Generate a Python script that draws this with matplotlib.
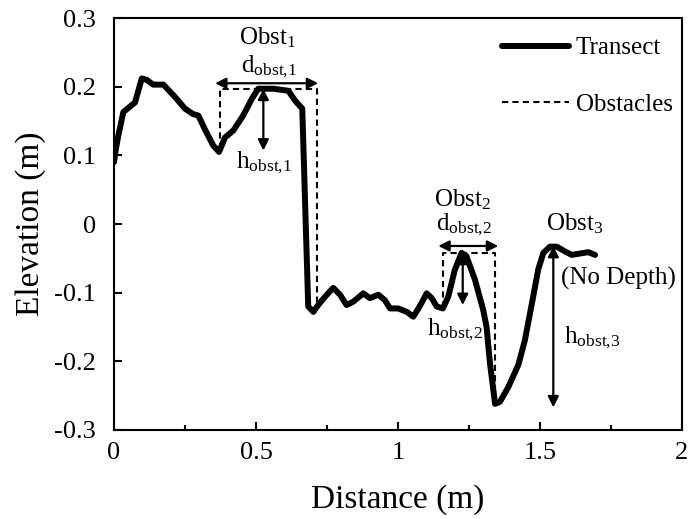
import matplotlib
matplotlib.use("Agg")
import matplotlib.pyplot as plt
import numpy as np
from matplotlib.ticker import MultipleLocator

plt.rcParams['font.family'] = ['Liberation Serif', 'DejaVu Serif']
plt.rcParams['mathtext.fontset'] = 'custom'
plt.rcParams['mathtext.rm'] = 'Liberation Serif'
plt.rcParams['mathtext.it'] = 'Liberation Serif:italic'
plt.rcParams['mathtext.bf'] = 'Liberation Serif:bold'

# Transect profile
dist = [0.0, 0.007, 0.015, 0.033, 0.074, 0.098, 0.115, 0.138, 0.174, 0.215, 0.25,
        0.279, 0.297, 0.32, 0.35, 0.37, 0.391, 0.42, 0.455, 0.485, 0.508, 0.561,
        0.614, 0.637, 0.663, 0.684, 0.702, 0.719, 0.743, 0.772, 0.796, 0.819,
        0.843, 0.878, 0.901, 0.931, 0.954, 0.972, 1.001, 1.031, 1.054, 1.072,
        1.083, 1.101, 1.119, 1.136, 1.158, 1.177, 1.2, 1.224, 1.241, 1.271, 1.3,
        1.312, 1.324, 1.342, 1.359, 1.389, 1.424, 1.447, 1.476, 1.494, 1.512,
        1.535, 1.559, 1.588, 1.612, 1.641, 1.67, 1.694]
elev = [0.09, 0.11, 0.128, 0.163, 0.177, 0.212, 0.21, 0.203, 0.203, 0.185, 0.168,
        0.16, 0.158, 0.138, 0.114, 0.105, 0.126, 0.136, 0.158, 0.182, 0.197, 0.197,
        0.194, 0.18, 0.168, -0.12, -0.128, -0.118, -0.106, -0.093, -0.103, -0.118,
        -0.113, -0.101, -0.108, -0.103, -0.111, -0.123, -0.123, -0.128, -0.135, -0.123,
        -0.115, -0.101, -0.108, -0.12, -0.123, -0.106, -0.067, -0.042, -0.047, -0.081, -0.125,
        -0.15, -0.203, -0.262, -0.259, -0.237, -0.205, -0.169, -0.106, -0.066, -0.042,
        -0.033, -0.033, -0.04, -0.045, -0.043, -0.041, -0.045]

# Obstacle outlines (dashed)
obst1_x = [0.373, 0.373, 0.714, 0.714]
obst1_y = [0.109, 0.197, 0.197, -0.125]
obst2_x = [1.158, 1.158, 1.342, 1.342]
obst2_y = [-0.123, -0.042, -0.042, -0.26]

# Dimension arrows: (x0, y0, x1, y1)
d1 = (0.356, 0.205, 0.719, 0.205)
h1 = (0.526, 0.197, 0.526, 0.107)
d2 = (1.142, -0.032, 1.353, -0.032)
h2 = (1.228, -0.042, 1.228, -0.118)
h3 = (1.547, -0.032, 1.547, -0.267)

fig = plt.figure(figsize=(6.92, 5.19), dpi=100)
ax = fig.add_axes([0.1647, 0.1715, 0.8208, 0.7938])

ax.plot(dist, elev, color='black', lw=4.3, solid_joinstyle='round',
        solid_capstyle='round', label='Transect')
obs_x = obst1_x + [np.nan] + obst2_x
obs_y = obst1_y + [np.nan] + obst2_y
ax.plot(obs_x, obs_y, color='black', lw=1.5, ls=(0, (3, 2)), label='Obstacles')

for (x0, y0, x1, y1) in [d1, h1, d2, h2, h3]:
    ax.annotate('', xy=(x1, y1), xytext=(x0, y0),
                arrowprops=dict(arrowstyle='<|-|>', color='black', lw=1.6,
                                mutation_scale=16, shrinkA=0, shrinkB=0))

fs = 18
ax.text(0.542, 0.271, r'Obst$_1$', ha='center', va='center', fontsize=fs)
ax.text(0.546, 0.229, r'd$_{\mathrm{obst{,}1}}$', ha='center', va='center', fontsize=fs)
ax.text(0.528, 0.089, r'h$_{\mathrm{obst{,}1}}$', ha='center', va='center', fontsize=fs)
ax.text(1.229, 0.035, r'Obst$_2$', ha='center', va='center', fontsize=fs)
ax.text(1.232, -0.0015, r'd$_{\mathrm{obst{,}2}}$', ha='center', va='center', fontsize=fs)
ax.text(1.2, -0.154, r'h$_{\mathrm{obst{,}2}}$', ha='center', va='center', fontsize=fs)
ax.text(1.623, 0.0, r'Obst$_3$', ha='center', va='center', fontsize=fs)
ax.text(1.778, -0.079, '(No Depth)', ha='center', va='center', fontsize=fs)
ax.text(1.683, -0.165, r'h$_{\mathrm{obst{,}3}}$', ha='center', va='center', fontsize=fs)

ax.set_xlim(0, 2)
ax.set_ylim(-0.3, 0.3)
ax.xaxis.set_minor_locator(MultipleLocator(0.25))
ax.set_xticks([0, 0.5, 1, 1.5, 2])
ax.set_xticklabels(['0', '0.5', '1', '1.5', '2'])
ax.set_yticks([-0.3, -0.2, -0.1, 0, 0.1, 0.2, 0.3])
ax.set_yticklabels(['-0.3', '-0.2', '-0.1', '0', '0.1', '0.2', '0.3'])
ax.tick_params(which='major', direction='in', length=6, width=1.5, labelsize=19)
ax.tick_params(axis='y', which='major', pad=13)
ax.tick_params(axis='x', which='major', pad=9)
ax.tick_params(which='minor', direction='in', length=3.5, width=1.5)
ax.tick_params(axis='x', which='both', top=False)
ax.tick_params(axis='y', which='both', right=False)
for s in ax.spines.values():
    s.set_linewidth(1.5)

ax.set_xlabel('Distance (m)', fontsize=24, labelpad=14)
ax.set_ylabel('Elevation (m)', fontsize=24, labelpad=6)

ax.legend(loc='upper left', bbox_to_anchor=(0.65, 1.0), frameon=False, fontsize=18,
          handlelength=2.7, handletextpad=0.25, labelspacing=1.35, borderaxespad=0.35)

fig.savefig('out.png', dpi=100)
